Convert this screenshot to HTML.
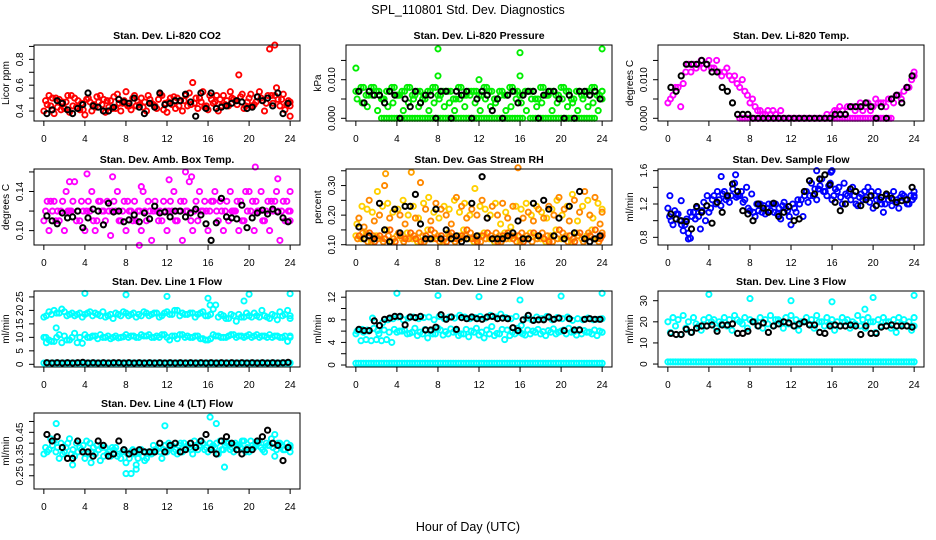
<!DOCTYPE html>
<html><head><meta charset="utf-8">
<style>
html,body{margin:0;padding:0;background:#fff;}
svg{display:block;font-family:"Liberation Sans",Arial,sans-serif;}
</style></head>
<body>
<svg id="chart" width="936" height="540" viewBox="0 0 936 540">
<text x="468" y="14" text-anchor="middle" font-size="12.5">SPL_110801  Std. Dev. Diagnostics</text>
<text x="468" y="531" text-anchor="middle" font-size="12.5">Hour of Day (UTC)</text>
</svg>
<script>
// ---------- data ----------
const xTicks=[0,4,8,12,16,20,24];
const co2Red1=[0.48,0.44,0.50,0.41,0.47,0.52,0.43,0.46,0.49,0.40,0.51,0.45,0.48,0.42,0.53,0.46,0.44,0.50,0.47,0.43,0.52,0.45,0.49,0.41,0.47,0.51,0.44,0.48,0.54,0.46,0.50,0.43,0.52,0.47,0.49,0.45,0.55,0.48,0.51,0.44,0.53,0.47,0.50,0.46,0.52,0.58,0.49,0.45,0.47];
const co2Red2=[0.40,0.52,0.38,0.49,0.42,0.39,0.50,0.41,0.37,0.47,0.43,0.52,0.39,0.48,0.42,0.40,0.55,0.41,0.44,0.50,0.40,0.46,0.42,0.52,0.39,0.45,0.50,0.40,0.44,0.62,0.42,0.55,0.41,0.46,0.40,0.52,0.44,0.49,0.68,0.42,0.50,0.45,0.55,0.40,0.88,0.52,0.44,0.41,0.36];
const co2Red3=[0.45,0.50,0.43,0.47,0.52,0.44,0.48,0.41,0.50,0.45,0.47,0.49,0.43,0.51,0.46,0.48,0.44,0.52,0.45,0.47,0.49,0.44,0.53,0.46,0.50,0.42,0.48,0.52,0.45,0.50,0.47,0.44,0.49,0.52,0.44,0.48,0.50,0.45,0.53,0.47,0.44,0.51,0.48,0.52,0.46,0.49,0.53,0.48,0.44];
const co2OutHours=[22.5];
const co2OutVals=[0.91];
const co2Black=[0.38,0.41,0.48,0.46,0.41,0.38,0.42,0.45,0.54,0.44,0.43,0.40,0.40,0.43,0.49,0.47,0.46,0.50,0.43,0.38,0.46,0.43,0.54,0.45,0.46,0.48,0.48,0.53,0.47,0.36,0.54,0.42,0.54,0.42,0.43,0.44,0.46,0.48,0.47,0.42,0.43,0.51,0.48,0.50,0.44,0.54,0.38,0.46];

const presA=[0.007,0.008,0.006,0.008,0.007,0.005,0.007,0.008,0.006,0.007,0.008,0.006,0.007,0.005,0.007,0.008,0.006,0.007,0.007,0.005,0.008,0.006,0.007,0.007,0.006,0.008,0.007,0.005,0.007,0.006,0.008,0.007,0.006,0.007,0.007,0.005,0.008,0.006,0.007,0.006,0.008,0.007,0.005,0.007,0.006,0.007,0.008,0.006,0.007];
const presB=[0.005,0.004,0.003,0.006,0.002,0.005,0.003,0.004,0.006,0.002,0.004,0.005,0.003,0.006,0.002,0.004,0.005,0.003,0.004,0.002,0.005,0.003,0.006,0.004,0.002,0.005,0.003,0.004,0.006,0.002,0.003,0.005,0.004,0.002,0.005,0.003,0.004,0.006,0.002,0.004,0.005,0.003,0.004,0.002,0.005,0.003,0.004,0.002,0.005];
const presZero=[null,null,null,null,null,0,0,0,0,0,0,0,0,0,0,0,0,0,0,0,0,0,0,0,0,0,0,0,0,0,0,0,0,null,0,0,0,0,0,0,0,0,0,0,0,0,0,null,null];
const presOutHours=[0,8,8,12,16,16,24];
const presOutVals=[0.013,0.018,0.011,0.010,0.017,0.011,0.018];
const presBlack=[0.007,0.004,0.007,0.006,0.006,0.004,0.007,0.006,0.000,0.005,0.003,0.007,0.004,0.006,0.006,0.000,0.007,0.007,0.000,0.007,0.006,0.007,0.000,0.005,0.007,0.006,0.002,0.005,0.000,0.006,0.007,0.004,0.006,0.007,0.007,0.000,0.006,0.007,0.007,0.005,0.000,0.006,0.000,0.007,0.007,0.006,0.007,0.005];

const tempCurve=[0.004,0.006,0.008,0.009,0.014,0.014,0.014,0.013,0.015,0.013,0.012,0.012,0.011,0.011,0.008,0.007,0.004,0.003,0.002,0.001,0.001,0.001,0.002,null,null,null,null,null,null,null,null,0.001,0.001,0.002,0.002,0.003,0.003,0.003,0.002,0.004,0.003,0.004,0.004,0.005,0.004,0.006,0.007,0.008,0.011];
const tempCurve2=[0.005,0.008,0.003,0.012,0.012,0.013,0.015,0.014,0.013,0.015,0.011,0.013,0.010,0.009,0.010,0.006,0.005,0.002,0.001,0.002,0.002,null,null,null,null,null,null,null,null,null,null,null,0.002,0.003,0.001,0.003,0.002,0.004,0.003,0.002,0.005,0.004,0.003,0.005,0.006,0.005,0.008,0.010,0.012];
const tempZero=[null,null,null,null,null,null,null,null,null,null,null,null,null,null,0,0,0,0,0,0,0,0,0,0,0,0,0,0,0,0,0,0,0,0,0,0,0,0,0,0,0,0,0,0,null,null,null,null,null];
const tempBlack=[0.008,0.007,0.011,0.014,0.014,0.014,0.015,0.014,0.012,0.012,0.008,0.007,0.004,0.001,0.001,0.001,0.000,0.000,0.000,0.000,0.000,0.000,0.000,0.000,0.000,0.000,0.000,0.000,0.000,0.000,0.000,0.000,0.001,0.001,0.001,0.003,0.003,0.003,0.004,0.003,0.000,0.003,0.000,0.005,0.006,0.004,0.008,0.011];

const ambA=[0.12,0.13,0.11,0.12,0.14,0.12,0.11,0.13,0.12,0.14,0.11,0.12,0.13,0.12,0.14,0.12,0.13,0.11,0.12,0.14,0.13,0.12,0.11,0.13,0.12,0.14,0.12,0.13,0.15,0.12,0.14,0.13,0.12,0.14,0.13,0.12,0.14,0.12,0.13,0.14,0.12,0.13,0.14,0.12,0.13,0.14,0.12,0.13,0.14];
const ambB=[0.11,0.10,0.13,0.11,0.10,0.12,0.15,0.11,0.10,0.12,0.10,0.13,0.11,0.095,0.12,0.11,0.10,0.12,0.11,0.10,0.11,0.09,0.12,0.11,0.10,0.12,0.11,0.09,0.12,0.10,0.11,0.12,0.10,0.13,0.11,0.10,0.11,0.12,0.10,0.11,0.14,0.10,0.12,0.11,0.10,0.13,0.09,0.11,0.12];
const ambC=[0.13,0.12,0.12,0.13,0.12,0.13,0.12,0.12,0.13,0.11,0.13,0.12,0.12,0.13,0.11,0.13,0.12,0.13,0.12,0.12,0.12,0.13,0.12,0.12,0.13,0.11,0.13,0.12,0.11,0.13,0.12,0.12,0.13,0.12,0.12,0.13,0.12,0.13,0.11,0.12,0.13,0.12,0.11,0.13,0.12,0.12,0.13,0.12,0.11];
const ambOutHours=[2.5,4.2,6.7,9.5,12.2,13.8,14.4,20.6,22.8,9.3];
const ambOutVals=[0.15,0.158,0.155,0.145,0.152,0.16,0.155,0.165,0.153,0.085];
const ambBlack=[0.115,0.11,0.107,0.118,0.113,0.114,0.12,0.103,0.113,0.122,0.12,0.106,0.128,0.119,0.12,0.109,0.111,0.116,0.109,0.118,0.112,0.125,0.118,0.119,0.114,0.12,0.12,0.114,0.118,0.122,0.116,0.107,0.09,0.108,0.133,0.114,0.113,0.112,0.126,0.103,0.113,0.118,0.121,0.117,0.122,0.119,0.113,0.109];

const rhLow=[0.13,0.12,0.14,0.11,0.13,0.12,0.15,0.11,0.13,0.12,0.14,0.12,0.11,0.13,0.15,0.12,0.13,0.11,0.14,0.12,0.13,0.15,0.12,0.11,0.13,0.14,0.12,0.11,0.13,0.14,0.12,0.13,0.11,0.12,0.14,0.13,0.12,0.11,0.13,0.15,0.12,0.13,0.11,0.14,0.12,0.13,0.15,0.12,0.13];
const rhLow2=[0.12,0.14,0.11,0.13,0.12,0.11,0.13,0.12,0.14,0.11,0.12,0.13,0.14,0.11,0.12,0.14,0.11,0.12,0.13,0.11,0.12,0.13,0.14,0.12,0.11,0.12,0.13,0.14,0.11,0.12,0.13,0.11,0.14,0.13,0.11,0.12,0.14,0.13,0.11,0.12,0.14,0.11,0.12,0.13,0.11,0.14,0.12,0.11,0.14];
const rhHigh=[0.17,0.23,0.22,0.21,0.28,0.23,0.24,0.21,0.22,0.25,0.20,0.23,0.19,0.24,0.26,0.21,0.19,0.23,0.22,0.25,0.21,0.24,0.20,0.29,0.23,0.22,0.20,0.24,0.17,0.21,0.16,0.23,0.22,0.24,0.20,0.23,0.21,0.19,0.22,0.25,0.20,0.23,0.27,0.18,0.23,0.25,0.19,0.24,0.22];
const rhHigh2=[0.19,0.16,0.25,0.18,0.20,0.30,0.19,0.22,0.20,0.17,0.23,0.19,0.31,0.22,0.18,0.24,0.22,0.20,0.17,0.26,0.23,0.19,0.22,0.20,0.25,0.19,0.23,0.20,0.24,0.19,0.23,0.36,0.19,0.21,0.18,0.22,0.19,0.23,0.20,0.26,0.22,0.18,0.25,0.21,0.28,0.20,0.26,0.17,0.21];
const rhOutHours=[2.9,5.4];
const rhOutVals=[0.34,0.345];
const rhBlack=[0.16,0.12,0.13,0.12,0.24,0.15,0.11,0.22,0.14,0.23,0.23,0.27,0.17,0.12,0.12,0.22,0.12,0.15,0.12,0.13,0.11,0.12,0.24,0.13,0.33,0.19,0.12,0.12,0.12,0.13,0.14,0.18,0.12,0.12,0.24,0.13,0.25,0.22,0.13,0.19,0.12,0.23,0.14,0.28,0.12,0.11,0.12,0.13];

const sfA=[1.05,1.12,1.0,0.95,1.1,1.02,0.9,1.0,1.15,1.2,1.18,1.25,1.3,1.28,1.35,1.4,1.32,1.2,1.1,1.15,1.2,1.08,1.18,1.12,1.2,1.25,1.05,1.22,1.3,1.38,1.35,1.42,1.3,1.4,1.45,1.35,1.3,1.28,1.35,1.22,1.3,1.25,1.2,1.3,1.22,1.28,1.25,1.3,1.35];
const sfB=[1.15,0.95,1.08,0.88,0.85,1.1,1.05,1.22,1.1,1.3,1.25,1.35,1.22,1.45,1.3,1.25,1.12,1.05,1.2,1.08,1.12,1.2,1.02,1.15,0.95,1.1,1.25,1.35,1.45,1.25,1.5,1.3,1.25,1.35,1.2,1.3,1.4,1.18,1.25,1.4,1.15,1.35,1.1,1.25,1.35,1.15,1.3,1.2,1.28];
const sfC=[1.0,1.08,0.95,1.02,1.05,1.15,1.12,1.3,1.25,1.35,1.32,1.28,1.38,1.3,1.22,1.15,1.1,1.12,1.18,1.2,1.1,1.15,1.22,1.05,1.15,1.2,1.3,1.3,1.38,1.42,1.35,1.45,1.38,1.28,1.32,1.25,1.2,1.32,1.28,1.35,1.25,1.2,1.3,1.18,1.25,1.32,1.2,1.25,1.3];
const sfOutHours=[0.2,1.3,2.0,2.2,5.2,6.6,14.5,15.9,16.0];
const sfOutVals=[1.3,1.24,0.78,0.79,1.53,1.55,1.6,1.58,1.6];
const sfBlack=[1.08,1.02,1.0,0.99,0.9,1.17,1.1,1.18,0.97,1.22,1.1,1.3,1.44,1.35,1.12,1.08,1.0,1.2,1.15,1.1,1.21,1.05,1.1,1.17,1.0,1.02,1.35,1.48,1.32,1.5,1.55,1.43,1.22,1.12,1.2,1.38,1.35,1.18,1.25,1.3,1.18,1.28,1.32,1.27,1.22,1.24,1.25,1.4];

const l1Top=[17.5,19.5,20,19,19.5,18.5,18,19,18.5,19.5,19,18,17.5,18.5,19,18,19,18.5,17.5,18,19,18.5,19,18,19.5,18.5,20,19,18.5,19,18.5,19.5,18,20.5,17.5,18,17,18,18.5,17.5,18,19,17.5,18,17,18,19.5,18.5,17];
const l1Top2=[18,18.5,19,20.5,18,19,18.5,17.5,19,18,18.5,19.5,18,17,18.5,19.5,18,19,18.5,19.5,18,19,17.5,19,18.5,20,18,18.5,19,17.5,19,18,18.5,22,18.5,17,18.5,16,17.5,19,17.5,18,20,17.5,18.5,16.5,18,20,18];
const l1Mid=[10,9,8.5,11,10.5,9,11.5,10,11,10,10.5,11,10,9.5,10.5,10,11,10.5,10,11,10.5,10,10.5,11,10,10.5,9.5,11,10.5,10,10.5,9.5,9,11,10.5,10,10.5,11,10.5,10,11,10.5,10,10.5,11,10.5,10,10.5,10];
const l1Mid2=[8,8.5,10,8,9,10,8,7.8,10,10.5,9.5,10,10.5,10,9.8,10.2,10,10.5,10,10.5,11,10,10,11,9,10.5,11,10,10,10.5,9.5,9,9.5,10.5,10,10,11,10,10.5,10.5,10,11,10.5,10,10,10.5,10,8.5,10.5];
const l1Zero=[0.5,0.5,0.5,0.5,0.5,0.5,0.5,0.5,0.5,0.5,0.5,0.5,0.5,0.5,0.5,0.5,0.5,0.5,0.5,0.5,0.5,0.5,0.5,0.5,0.5,0.5,0.5,0.5,0.5,0.5,0.5,0.5,0.5,0.5,0.5,0.5,0.5,0.5,0.5,0.5,0.5,0.5,0.5,0.5,0.5,0.5,0.5,0.5,0.5];
const l1OutHours=[0.2,1.2,4.0,8.0,12.0,16.0,16.2,19.5,20.0,24];
const l1OutVals=[10,13.5,26.3,25.8,25.2,24.5,22,23.5,26,26.2];
const l1Black=[0.6,0.5,0.6,0.5,0.6,0.5,0.6,0.7,0.5,0.6,0.5,0.6,0.5,0.6,0.6,0.5,0.6,0.5,0.6,0.5,0.6,0.5,0.6,0.5,0.6,0.5,0.6,0.5,0.6,0.5,0.6,0.5,0.6,0.5,0.6,0.5,0.6,0.5,0.6,0.5,0.6,0.5,0.6,0.5,0.6,0.5,0.6,0.7];

const l2Top=[6,6.3,6.2,8.3,6.1,7.5,8,8.2,8.5,8,8.3,8.5,8.2,8.4,8.5,8,8.6,8.2,8.5,8.3,8.8,8.5,8.2,8.4,8.6,8.3,8.8,8.5,9,8.4,8.2,8.6,7,8.3,8,8.5,8.2,8.6,8,8.4,8.2,8.5,7.9,8.2,8,8.3,8,8.1,8.2];
const l2Mid=[5.5,4.3,4.5,4.3,4.5,4.3,4.5,4,5.8,6,5.5,5.8,5.2,5.5,4.8,5.5,6.5,5.3,5.5,5.8,5.2,5.5,5,5.8,5.3,4.8,5.5,5.2,5.5,4.5,5.2,5.5,5.8,5.3,5.5,5.8,5.5,5.2,5.8,5.5,6,5.5,5.8,5.3,5.5,5.8,5.5,5.2,5.8];
const l2Mid2=[6.2,5.8,6,6.5,5.5,6.2,5.8,6.3,6,6.2,5.6,6.5,5.8,6.3,6,5.5,6.2,5.9,6.4,6,5.5,6.3,6,6.5,5.8,6.2,6.8,5.6,6.3,6.2,5.8,6.5,5.5,6.2,6,6.3,5.9,6.1,6.4,5.8,6.2,6.5,5.9,6.3,6.1,5.8,6.2,6,5.8];
const l2Zero=[0.3,0.3,0.3,0.3,0.3,0.3,0.3,0.3,0.3,0.3,0.3,0.3,0.3,0.3,0.3,0.3,0.3,0.3,0.3,0.3,0.3,0.3,0.3,0.3,0.3,0.3,0.3,0.3,0.3,0.3,0.3,0.3,0.3,0.3,0.3,0.3,0.3,0.3,0.3,0.3,0.3,0.3,0.3,0.3,0.3,0.3,0.3,0.3,0.3];
const l2OutHours=[4,8,12,16,20,24];
const l2OutVals=[12.7,12.3,12.1,11.5,12.2,12.7];
const l2Black=[6.3,6.1,6.1,7.8,7,8.1,8.3,8.6,8.6,7.1,8.5,8.4,8.6,6.2,6.2,6.7,8.9,8.1,8.5,6.3,8.4,8.2,8.5,8.2,8.1,8.5,8.6,8.2,8.3,8.2,6.6,6.1,8,8.8,7.9,8,8,8.5,8.1,8.3,6.1,8.2,6.2,6.2,8.1,8.2,8.1,8.1];

const l3Top=[20,22,21,23,20,22,18,21,22,21,20,22,21,23,20,22,21,20,22,21,23,21,20,22,23,21,20,22,21,23,20,22,21,20,22,21,20,23,21,22,20,21,22,20,21,22,21,20,22];
const l3Mid=[15,18,14,17,15,19,16,18,20,17,19,18,16,21,19,17,20,18,17,19,18,21,17,19,18,16,20,19,17,20,18,19,16,18,20,17,19,18,17,20,15,18,20,17,15,19,18,16,18];
const l3Zero=[1,1,1,1,1,1,1,1,1,1,1,1,1,1,1,1,1,1,1,1,1,1,1,1,1,1,1,1,1,1,1,1,1,1,1,1,1,1,1,1,1,1,1,1,1,1,1,1,1];
const l3OutHours=[4,8,12,16,20,24,19.2];
const l3OutVals=[33,31,30,29.5,31.5,32.5,26];
const l3Black=[14.5,14,14,16.5,15,17,18,18,18.5,15.5,18.5,18.5,19,14.5,14.5,15.5,20,18,19.5,15,18,19,20,19.5,18,19,20,18.5,18.5,15,14.5,18,18.5,18,18,18.5,18,14,18,14.5,14.5,17.5,18,18.5,18,18,18,17.5];

const l4A=[0.38,0.42,0.36,0.40,0.38,0.35,0.40,0.37,0.41,0.36,0.39,0.38,0.35,0.38,0.34,0.36,0.35,0.37,0.33,0.34,0.36,0.39,0.38,0.37,0.40,0.36,0.39,0.40,0.38,0.41,0.39,0.37,0.40,0.38,0.41,0.39,0.37,0.40,0.38,0.36,0.41,0.39,0.38,0.40,0.42,0.37,0.39,0.40,0.38];
const l4B=[0.35,0.37,0.41,0.33,0.36,0.42,0.34,0.38,0.33,0.40,0.35,0.32,0.38,0.34,0.38,0.33,0.31,0.36,0.30,0.37,0.33,0.35,0.37,0.33,0.36,0.39,0.35,0.36,0.39,0.35,0.37,0.40,0.36,0.39,0.35,0.37,0.40,0.36,0.39,0.41,0.36,0.38,0.41,0.36,0.39,0.34,0.40,0.37,0.36];
const l4C=[0.36,0.39,0.38,0.35,0.40,0.37,0.36,0.39,0.35,0.38,0.37,0.34,0.36,0.37,0.35,0.37,0.33,0.35,0.36,0.32,0.35,0.37,0.36,0.39,0.38,0.37,0.40,0.38,0.37,0.39,0.41,0.38,0.38,0.40,0.37,0.40,0.38,0.39,0.41,0.38,0.39,0.40,0.37,0.39,0.38,0.40,0.37,0.38,0.39];
const l4OutHours=[1.2,2.8,8.0,8.5,9.0,11.8,16.2,16.8,17.6,22.5,4.6];
const l4OutVals=[0.49,0.3,0.26,0.26,0.28,0.48,0.52,0.49,0.29,0.44,0.31];
const l4Black=[0.44,0.41,0.43,0.38,0.33,0.33,0.41,0.36,0.36,0.34,0.41,0.39,0.34,0.35,0.41,0.37,0.35,0.36,0.37,0.36,0.36,0.36,0.40,0.36,0.39,0.40,0.36,0.37,0.40,0.38,0.41,0.44,0.37,0.35,0.41,0.43,0.40,0.37,0.35,0.37,0.37,0.41,0.43,0.46,0.40,0.39,0.32,0.38];

// ---------- layout ----------
const NS="http://www.w3.org/2000/svg";
const svg=document.getElementById('chart');
const colX=[34,346,658], rowY=[45,169,291,413], PW=266, PH=76;
// series: [values, hours|null, colour, hourShift]
const panels=[
 {key:'co2',title:'Stan. Dev. Li-820 CO2',ylab:'Licor ppm',c:0,r:0,y0:0.323,y1:0.911,ticks:[0.4,0.5,0.6,0.7,0.8,0.9],labs:[0.4,0.6,0.8],fmt:1,
  series:[[co2Red2,null,'#ff0000',0],[co2Red1,null,'#ff0000',0.17],[co2Red3,null,'#ff0000',0.33],[co2OutVals,co2OutHours,'#ff0000',0],[co2Black,null,'#000',0]]},
 {key:'pressure',title:'Stan. Dev. Li-820 Pressure',ylab:'kPa',c:1,r:0,y0:-0.0007,y1:0.019,ticks:[0,0.005,0.010,0.015],labs:[0,0.010],fmt:3,
  series:[[presZero,null,'#00ee00',0],[presZero,null,'#00ee00',0.25],[presB,null,'#00ee00',0.12],[presA,null,'#00ee00',0],[presA,null,'#00ee00',0.25],[presOutVals,presOutHours,'#00ee00',0],[presBlack,null,'#000',0]]},
 {key:'temp',title:'Stan. Dev. Li-820 Temp.',ylab:'degrees C',c:2,r:0,y0:-0.0007,y1:0.019,ticks:[0,0.005,0.010,0.015],labs:[0,0.010],fmt:3,
  series:[[tempZero,null,'#ff00ff',0],[tempZero,null,'#ff00ff',0.25],[tempCurve2,null,'#ff00ff',0.25],[tempCurve,null,'#ff00ff',0],[tempBlack,null,'#000',0]]},
 {key:'ambbox',title:'Stan. Dev. Amb. Box Temp.',ylab:'degrees C',c:0,r:1,y0:0.0853,y1:0.163,ticks:[0.10,0.12,0.14,0.16],labs:[0.10,0.14],fmt:2,
  series:[[ambB,null,'#ff00ff',0],[ambA,null,'#ff00ff',0.17],[ambC,null,'#ff00ff',0.33],[ambOutVals,ambOutHours,'#ff00ff',0],[ambBlack,null,'#000',0]]},
 {key:'rh',title:'Stan. Dev. Gas Stream RH',ylab:'percent',c:1,r:1,y0:0.099,y1:0.356,ticks:[0.10,0.15,0.20,0.25,0.30,0.35],labs:[0.10,0.20,0.30],fmt:2,
  series:[[rhLow,null,'#ffd000',0],[rhLow2,null,'#ff8800',0.17],[rhLow,null,'#ff6600',0.33],[rhHigh,null,'#ffd000',0.1],[rhHigh2,null,'#ff8800',0.3],[rhOutVals,rhOutHours,'#ffa000',0],[rhBlack,null,'#000',0]]},
 {key:'sampleflow',title:'Stan. Dev. Sample Flow',ylab:'ml/min',c:2,r:1,y0:0.708,y1:1.62,ticks:[0.8,1.0,1.2,1.4,1.6],labs:[0.8,1.2,1.6],fmt:1,
  series:[[sfB,null,'#0000ff',0],[sfA,null,'#0000ff',0.17],[sfC,null,'#0000ff',0.33],[sfOutVals,sfOutHours,'#0000ff',0],[sfBlack,null,'#000',0]]},
 {key:'line1',title:'Stan. Dev. Line 1 Flow',ylab:'ml/min',c:0,r:2,y0:-1.0,y1:27.2,ticks:[0,5,10,15,20,25],labs:[0,5,10,15,20,25],fmt:0,
  series:[[l1Zero,null,'#00ffff',0],[l1Zero,null,'#00ffff',0.25],[l1Mid2,null,'#00ffff',0.25],[l1Mid,null,'#00ffff',0],[l1Top2,null,'#00ffff',0.25],[l1Top,null,'#00ffff',0],[l1OutVals,l1OutHours,'#00ffff',0],[l1Black,null,'#000',0]]},
 {key:'line2',title:'Stan. Dev. Line 2 Flow',ylab:'ml/min',c:1,r:2,y0:-0.35,y1:13.1,ticks:[0,2,4,6,8,10,12],labs:[0,4,8,12],fmt:0,
  series:[[l2Zero,null,'#00ffff',0],[l2Zero,null,'#00ffff',0.25],[l2Mid,null,'#00ffff',0],[l2Mid2,null,'#00ffff',0.25],[l2Top,null,'#00ffff',0.12],[l2OutVals,l2OutHours,'#00ffff',0],[l2Black,null,'#000',0]]},
 {key:'line3',title:'Stan. Dev. Line 3 Flow',ylab:'ml/min',c:2,r:2,y0:-1.4,y1:34.6,ticks:[0,10,20,30],labs:[0,10,20,30],fmt:0,
  series:[[l3Zero,null,'#00ffff',0],[l3Zero,null,'#00ffff',0.25],[l3Mid,null,'#00ffff',0.25],[l3Top,null,'#00ffff',0],[l3OutVals,l3OutHours,'#00ffff',0],[l3Black,null,'#000',0]]},
 {key:'line4',title:'Stan. Dev. Line 4 (LT) Flow',ylab:'ml/min',c:0,r:3,y0:0.189,y1:0.539,ticks:[0.25,0.30,0.35,0.40,0.45,0.50],labs:[0.25,0.35,0.45],fmt:2,
  series:[[l4B,null,'#00ffff',0],[l4A,null,'#00ffff',0.17],[l4C,null,'#00ffff',0.33],[l4OutVals,l4OutHours,'#00ffff',0],[l4Black,null,'#000',0]]}
];

function mk(tag,attrs,parent){const e=document.createElementNS(NS,tag);for(const k in attrs)e.setAttribute(k,attrs[k]);(parent||svg).appendChild(e);return e;}

panels.forEach(p=>{
  const L=colX[p.c], T=rowY[p.r], R=L+PW, B=T+PH;
  const g=mk('g',{});
  
  
  const xs=h=>L+PW*(h+0.96)/25.92;
  const ys=v=>B-PH*(v-p.y0)/(p.y1-p.y0);
  const t=mk('text',{x:(L+R)/2,y:T-6,'text-anchor':'middle','font-size':'10.5','font-weight':'bold'},g);
  t.textContent=p.title;
  
  
  const pts=mk('g',{fill:'none'},g);
  
  
  p.series.forEach(s=>{
    const vals=s[0], hrs=s[1], col=s[2], sh=s[3]||0, isBlack=col==='#000';
    vals.forEach((v,i)=>{
      if(v===null||v===undefined)return;
      let h=hrs?hrs[i]:(isBlack?0.3+i*23.5/(vals.length-1):i*24/(vals.length-1))+sh;
      if(h>24)h=24;
      const c=mk('circle',{cx:xs(h).toFixed(1),cy:ys(v).toFixed(1),r:isBlack?2.6:2.6,stroke:col,'stroke-width':isBlack?2:1.9},pts);
      
      
    });
  });
  const box=mk('rect',{x:L,y:T,width:PW,height:PH,fill:'none',stroke:'#000','stroke-width':1},g);
  
  
  const xa=mk('g',{},g);
  
  
  mk('line',{x1:xs(xTicks[0]),x2:xs(xTicks[xTicks.length-1]),y1:B,y2:B,stroke:'#000'},xa);
  xTicks.forEach(h=>{
    mk('line',{x1:xs(h),x2:xs(h),y1:B,y2:B+5,stroke:'#000'},xa);
    const tl=mk('text',{x:xs(h),y:B+21,'text-anchor':'middle','font-size':'10'},xa);
    tl.textContent=h;
    
    
  });
  const ya=mk('g',{},g);
  
  
  mk('line',{x1:L,x2:L,y1:ys(p.ticks[0]),y2:ys(p.ticks[p.ticks.length-1]),stroke:'#000'},ya);
  p.ticks.forEach(v=>{mk('line',{x1:L-5,x2:L,y1:ys(v),y2:ys(v),stroke:'#000'},ya);});
  p.labs.forEach(v=>{
    const yy=ys(v);
    const tl=mk('text',{x:L-11,y:yy,'text-anchor':'middle','font-size':'10',transform:`rotate(-90 ${L-11} ${yy})`},ya);
    tl.textContent=v.toFixed(p.fmt);
    
    
  });
  const yl=mk('text',{x:L-25,y:(T+B)/2,'text-anchor':'middle','font-size':'10',transform:`rotate(-90 ${L-25} ${(T+B)/2})`},ya);
  yl.textContent=p.ylab;
  
  
});
</script>
</body></html>
